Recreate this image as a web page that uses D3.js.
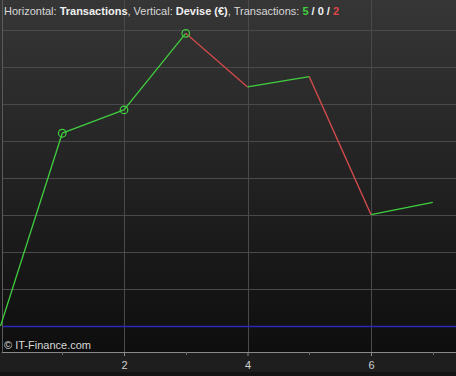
<!DOCTYPE html>
<html><head><meta charset="utf-8">
<script src="https://cdn.jsdelivr.net/npm/d3@7"></script>
<style>html,body{margin:0;padding:0;background:#1c1c1c;overflow:hidden}</style>
</head><body>
<script>
// Data
const transactions = [0, 1, 2, 3, 4, 5, 6, 7];
const devise = [0, 5.21, 5.84, 7.91, 6.46, 6.74, 3.01, 3.34];
const markedPoints = [1, 2, 3];
const xTickLabels = [2, 4, 6];
const xMinorTicks = [1, 3, 5, 7];
const yGridValues = [1, 2, 3, 4, 5, 6, 7, 8];
const baselineValue = 0;
const counts = {up: 5, flat: 0, down: 2};

const W = 456, H = 376;
const plotBottom = 352;
const svg = d3.select("body").append("svg").attr("width", W).attr("height", H)
  .style("font-family", "'Liberation Sans', Arial, sans-serif");

const defs = svg.append("defs");
const grad = defs.append("linearGradient").attr("id", "bg").attr("x1", 0).attr("y1", 0).attr("x2", 0).attr("y2", 1);
grad.append("stop").attr("offset", "0%").attr("stop-color", "#363636");
grad.append("stop").attr("offset", "100%").attr("stop-color", "#0e0e0e");

svg.append("rect").attr("x", 0).attr("y", 0).attr("width", W).attr("height", H).attr("fill", "#1e1e1e");
svg.append("rect").attr("x", 0).attr("y", 0).attr("width", W).attr("height", plotBottom).attr("fill", "url(#bg)");
svg.append("rect").attr("x", 0).attr("y", H - 4).attr("width", W).attr("height", 4).attr("fill", "#141414");

const x = d3.scaleLinear().domain([0, 7]).range([0.5, 432.75]);
const y = d3.scaleLinear().domain([0, 8]).range([326, 30]);

// grid
svg.append("g").selectAll("line").data(yGridValues).join("line")
  .attr("x1", 3).attr("x2", W).attr("y1", d => Math.round(y(d)) + 0.5).attr("y2", d => Math.round(y(d)) + 0.5)
  .attr("stroke", "#4a4a4a").attr("stroke-width", 1);
svg.append("g").selectAll("line").data(xTickLabels).join("line")
  .attr("y1", 0).attr("y2", plotBottom).attr("x1", d => Math.round(x(d)) + 0.5).attr("x2", d => Math.round(x(d)) + 0.5)
  .attr("stroke", "#4a4a4a").attr("stroke-width", 1);

// left border
svg.append("line").attr("x1", 2.5).attr("x2", 2.5).attr("y1", 0).attr("y2", plotBottom).attr("stroke", "#5a5a5a");

// baseline
svg.append("line").attr("x1", 3).attr("x2", W).attr("y1", y(baselineValue) + 0.5).attr("y2", y(baselineValue) + 0.5)
  .attr("stroke", "#2a2ab8").attr("stroke-width", 1.5);

// bottom axis
const axisG = svg.append("g").attr("transform", `translate(0,${plotBottom})`);
axisG.append("line").attr("x1", 2).attr("x2", W).attr("y1", 0.5).attr("y2", 0.5).attr("stroke", "#8a8a8a");
const axis = d3.axisBottom(x).tickValues(xTickLabels).tickSize(4).tickFormat(d3.format("d"));
const ag = axisG.append("g").call(axis);
ag.select(".domain").remove();
ag.selectAll(".tick line").attr("stroke", "#8a8a8a");
ag.selectAll(".tick text").attr("fill", "#d0d0d0").attr("font-size", 11).attr("dy", "0.9em")
  .style("font-family", "'Liberation Sans', Arial, sans-serif");
axisG.append("g").selectAll("line").data(xMinorTicks).join("line")
  .attr("x1", d => Math.round(x(d)) + 0.5).attr("x2", d => Math.round(x(d)) + 0.5).attr("y1", 0).attr("y2", 3)
  .attr("stroke", "#6a6a6a");

// line segments
const segs = d3.range(devise.length - 1).map(i => ({
  x1: transactions[i], y1: devise[i], x2: transactions[i + 1], y2: devise[i + 1]
}));
svg.append("g").selectAll("line").data(segs).join("line")
  .attr("x1", d => x(d.x1)).attr("y1", d => y(d.y1))
  .attr("x2", d => x(d.x2)).attr("y2", d => y(d.y2))
  .attr("stroke", d => d.y2 >= d.y1 ? "#3fcf3f" : "#d24a4a")
  .attr("stroke-width", 1.3);

svg.append("g").selectAll("circle").data(markedPoints).join("circle")
  .attr("cx", i => x(transactions[i])).attr("cy", i => y(devise[i])).attr("r", 3.8)
  .attr("fill", "none").attr("stroke", "#3fcf3f").attr("stroke-width", 1.2);

// title
const t = svg.append("text").attr("x", 4).attr("y", 15).attr("font-size", 11).attr("fill", "#d8d8d8");
t.append("tspan").text("Horizontal: ");
t.append("tspan").attr("font-weight", "bold").attr("fill", "#f0f0f0").text("Transactions");
t.append("tspan").text(", Vertical: ");
t.append("tspan").attr("font-weight", "bold").attr("fill", "#f0f0f0").text("Devise (€)");
t.append("tspan").text(", Transactions: ");
t.append("tspan").attr("font-weight", "bold").attr("fill", "#3fcf3f").text(counts.up);
t.append("tspan").attr("font-weight", "bold").attr("fill", "#f0f0f0").text(" / " + counts.flat + " / ");
t.append("tspan").attr("font-weight", "bold").attr("fill", "#e04545").text(counts.down);

// copyright
svg.append("text").attr("x", 4).attr("y", 349).attr("font-size", 11).attr("fill", "#d8d8d8").text("© IT-Finance.com");
</script>
</body></html>
